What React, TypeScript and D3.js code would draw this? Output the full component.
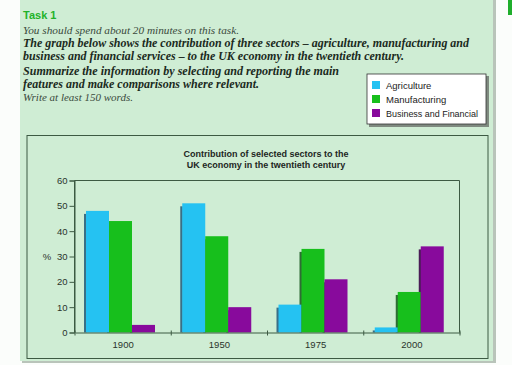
import React, { useEffect, useRef } from "react";
import * as d3 from "d3";

const years = ["1900", "1950", "1975", "2000"];
const sectors = ["Agriculture", "Manufacturing", "Business and Financial"];
const agriculture = [48, 51, 11, 2];
const manufacturing = [44, 38, 33, 16];
const business = [3, 10, 21, 34];
const yTicks = [0, 10, 20, 30, 40, 50, 60];

const colors = ["#25c2f2", "#17bf1c", "#880a9c"];
const shades = ["#3a6f86", "#2f6d34", "#4a1d56"];

const introLines = [
  { text: "You should spend about 20 minutes on this task.", y: 34, bold: false, w: 216 },
  { text: "The graph below shows the contribution of three sectors \u2013 agriculture, manufacturing and", y: 47, bold: true, w: 446 },
  { text: "business and financial services \u2013 to the UK economy in the twentieth century.", y: 60, bold: true, w: 381 },
  { text: "Summarize the information by selecting and reporting the main", y: 75, bold: true, w: 316 },
  { text: "features and make comparisons where relevant.", y: 88, bold: true, w: 236 },
  { text: "Write at least 150 words.", y: 101, bold: false, w: 110 },
];

const App = () => {
  const ref = useRef<SVGSVGElement>(null);

  useEffect(() => {
    const svg = d3.select(ref.current);
    svg.selectAll("*").remove();
    const W = 512, H = 365;
    svg.attr("width", W).attr("height", H);

    svg.append("rect").attr("width", W).attr("height", H).attr("fill", "#fbfdfb");
    // panel shadow + panel
    svg.append("rect").attr("x", 22).attr("y", 0).attr("width", 474).attr("height", 363).attr("fill", "#b9c4ba");
    svg.append("rect").attr("x", 20).attr("y", 0).attr("width", 473).attr("height", 361).attr("fill", "#cfedd4");
    // green tab at top right
    svg.append("rect").attr("x", 508).attr("y", 0).attr("width", 4).attr("height", 15).attr("fill", "#1fae2c");

    svg.append("text").attr("x", 23).attr("y", 19)
      .attr("font-family", "Liberation Sans, Arial, sans-serif").attr("font-weight", "bold")
      .attr("font-size", 11).attr("fill", "#22b32a").text("Task 1");

    introLines.forEach((l) => {
      svg.append("text").attr("x", 23).attr("y", l.y)
        .attr("font-family", "Liberation Serif, serif").attr("font-style", "italic")
        .attr("font-weight", l.bold ? "bold" : "normal")
        .attr("font-size", l.bold ? 11.5 : 10.5)
        .attr("fill", l.bold ? "#1b2a1d" : "#3a4a3c")
        .attr("textLength", l.w).attr("lengthAdjust", "spacingAndGlyphs")
        .text(l.text);
    });

    // legend
    const lg = svg.append("g");
    lg.append("rect").attr("x", 369).attr("y", 76).attr("width", 120).attr("height", 51).attr("fill", "#7f8a80");
    lg.append("rect").attr("x", 367).attr("y", 74).attr("width", 119).attr("height", 50)
      .attr("fill", "#ffffff").attr("stroke", "#333").attr("stroke-width", 0.8);
    sectors.forEach((s, i) => {
      const cy = 85 + i * 14;
      lg.append("rect").attr("x", 372).attr("y", cy - 4).attr("width", 8).attr("height", 8).attr("fill", colors[i]);
      lg.append("text").attr("x", 386).attr("y", cy + 3.5)
        .attr("font-family", "Liberation Sans, Arial, sans-serif").attr("font-size", 9.5)
        .attr("fill", "#222").attr("textLength", s.length > 15 ? 92 : null)
        .attr("lengthAdjust", "spacingAndGlyphs").text(s);
    });

    // chart box
    svg.append("rect").attr("x", 27).attr("y", 135.5).attr("width", 461).attr("height", 223)
      .attr("fill", "none").attr("stroke", "#3d5a43").attr("stroke-width", 1);

    const titleLines = ["Contribution of selected sectors to the", "UK economy in the twentieth century"];
    titleLines.forEach((t, i) => {
      svg.append("text").attr("x", 266).attr("y", 157 + i * 11).attr("text-anchor", "middle")
        .attr("font-family", "Liberation Sans, Arial, sans-serif").attr("font-weight", "bold")
        .attr("font-size", 9).attr("fill", "#1d261e").text(t);
    });

    const x = d3.scaleBand().domain(years).range([75, 460]);
    const inner = d3.scaleBand().domain(sectors).range([11, 80]);
    const y = d3.scaleLinear().domain([0, 60]).range([332.5, 180.5]);

    const series = [agriculture, manufacturing, business];
    const bars = series.flatMap((vals, si) =>
      vals.map((v, yi) => ({ year: years[yi], sector: sectors[si], si, v }))
    );

    const plot = svg.append("g");
    // left-edge depth shading
    plot.selectAll("rect.shade").data(bars).join("rect").attr("class", "shade")
      .attr("x", (d) => x(d.year)! + inner(d.sector)! - 2)
      .attr("y", (d) => y(d.v) + 3)
      .attr("width", 2.5)
      .attr("height", (d) => Math.max(0, y(0) - y(d.v) - 3))
      .attr("fill", (d) => shades[d.si]);
    plot.selectAll("rect.bar").data(bars).join("rect").attr("class", "bar")
      .attr("x", (d) => x(d.year)! + inner(d.sector)!)
      .attr("y", (d) => y(d.v))
      .attr("width", inner.bandwidth())
      .attr("height", (d) => y(0) - y(d.v))
      .attr("fill", (d) => colors[d.si]);

    // plot frame
    svg.append("path")
      .attr("d", `M74.5,${y(0)}V${y(60)}H459.5V${y(0)}`)
      .attr("fill", "none").attr("stroke", "#3d5a43").attr("stroke-width", 1);

    const yAxis = svg.append("g").attr("transform", "translate(74.5,0)")
      .call(d3.axisLeft(y).tickValues(yTicks).tickSize(5).tickPadding(2));
    yAxis.select(".domain").attr("stroke", "#3d5a43");
    yAxis.selectAll("line").attr("stroke", "#3d5a43");
    yAxis.selectAll("text").attr("font-family", "Liberation Sans, Arial, sans-serif")
      .attr("font-size", 9.5).attr("fill", "#2a342b");

    const xAxis = svg.append("g").attr("transform", `translate(0,${y(0)})`)
      .call(d3.axisBottom(x).tickSize(0).tickPadding(9));
    xAxis.select(".domain").attr("stroke", "#3d5a43");
    xAxis.selectAll("text").attr("font-family", "Liberation Sans, Arial, sans-serif")
      .attr("font-size", 9.5).attr("fill", "#2a342b");
    const bounds = [...years.map((yr) => x(yr)!), 460];
    xAxis.selectAll("line.bound").data(bounds).join("line").attr("class", "bound")
      .attr("x1", (d) => d).attr("x2", (d) => d).attr("y1", -2).attr("y2", 3)
      .attr("stroke", "#3d5a43");

    svg.append("text").attr("x", 47).attr("y", 260).attr("text-anchor", "middle")
      .attr("font-family", "Liberation Sans, Arial, sans-serif").attr("font-size", 9.5)
      .attr("fill", "#2a342b").text("%");
  }, []);

  return (
    <svg ref={ref} style={{ position: "absolute", left: 0, top: 0, display: "block" }} />
  );
};

export default App;
